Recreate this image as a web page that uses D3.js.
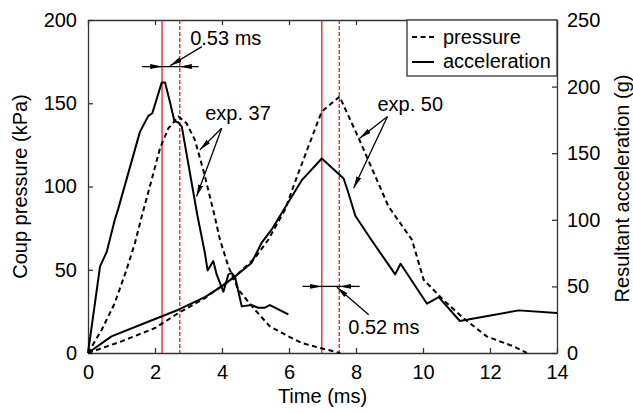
<!DOCTYPE html>
<meta charset="utf-8">
<script src="https://d3js.org/d3.v7.min.js"></script>
<style>
  body { margin: 0; background: #fff; }
  svg text { font-family: "Liberation Sans", Arial, sans-serif; font-size: 20px; fill: #000; }
  .axis path, .axis line { stroke: #333; stroke-width: 1.3; }
</style>
<body>
  <div id="my_dataviz"></div>
  <script>

    // Tick values
    var timeTicks = [0, 2, 4, 6, 8, 10, 12, 14];
    var pressureTicks = [0, 50, 100, 150, 200];
    var accelTicks = [0, 50, 100, 150, 200, 250];

    // Series: [time (ms), value]
    // pressure in kPa (left axis), acceleration in g (right axis)
    var exp37Pressure = [[0,0],[0.41,14],[0.8,30],[1.15,50],[1.4,66],[1.63,84],[1.9,104],[2.15,123],
      [2.4,135],[2.7,142],[2.94,138],[3.19,128],[3.44,110],[3.76,84],[3.94,68],[4.19,52],[4.49,38],
      [4.98,26],[5.43,16],[5.98,10],[6.38,6],[6.93,3],[7.53,0]];
    var exp37Accel = [[0,0],[0.36,65],[0.56,76],[0.8,100],[0.9,108],[1.55,166],[1.8,178],[1.92,180],
      [2.2,203],[2.3,203],[2.45,188],[2.58,174],[2.7,173],[2.8,170],[3.26,104],[3.49,75],[3.57,62],
      [3.74,69],[3.84,59],[4.04,46],[4.19,59],[4.29,60],[4.39,57],[4.59,35],[4.88,36],[5.08,34],
      [5.28,34],[5.43,36],[5.98,29]];
    var exp50Pressure = [[0,0],[1.0,7],[2.0,15],[2.7,24],[3.49,33],[4.39,46],[4.98,57],[5.38,68],
      [5.88,86],[6.24,106],[6.88,140],[6.98,145],[7.51,154],[8.08,129],[8.97,88],[9.67,68],[10.02,44],
      [10.6,32],[11.2,21],[11.9,10],[12.7,4],[13.1,0]];
    var exp50Accel = [[0,0],[0.7,12.5],[1.7,22.5],[2.7,32.5],[3.49,42],[3.99,50],[4.39,57.5],
      [4.88,67.6],[5.18,82.6],[5.48,92.6],[5.83,107],[6.39,130],[6.98,146],[7.63,131],[7.75,122],
      [7.98,103],[8.43,86],[9.17,59],[9.33,67],[10.12,37],[10.47,42],[11.1,24],[12.86,32],[14,30]];

    // Peak times (ms) marked with red lines
    var accelPeaks = [2.21, 6.98];
    var pressurePeaks = [2.74, 7.50];

    // Set the dimensions and margins of the graph
    var margin = {top: 20, right: 76, bottom: 60, left: 88},
        width = 633 - margin.left - margin.right,
        height = 413 - margin.top - margin.bottom;

    var svg = d3.select("#my_dataviz")
      .append("svg")
        .attr("width", width + margin.left + margin.right)
        .attr("height", height + margin.top + margin.bottom)
      .append("g")
        .attr("transform", "translate(" + margin.left + "," + margin.top + ")");

    // Scales
    var x = d3.scaleLinear().domain([0, 14]).range([0, width]);
    var yP = d3.scaleLinear().domain([0, 200]).range([height, 0]);
    var yA = d3.scaleLinear().domain([0, 250]).range([height, 0]);

    // Arrow head
    svg.append("defs").append("marker")
        .attr("id", "arrow")
        .attr("viewBox", "0 0 12 6")
        .attr("refX", 12).attr("refY", 3)
        .attr("markerWidth", 12).attr("markerHeight", 6)
        .attr("markerUnits", "userSpaceOnUse")
        .attr("orient", "auto")
      .append("path")
        .attr("d", "M0,0.5L12,3L0,5.5Z")
        .attr("fill", "#000");

    // Axes, ticks pointing inward
    svg.append("g").attr("class", "axis")
      .attr("transform", "translate(0," + height + ")")
      .call(d3.axisBottom(x).tickValues(timeTicks).tickSizeInner(-5).tickSizeOuter(0).tickPadding(12));
    svg.append("g").attr("class", "axis")
      .call(d3.axisTop(x).tickValues(timeTicks).tickSizeInner(-5).tickSizeOuter(0).tickFormat(""));
    svg.append("g").attr("class", "axis")
      .call(d3.axisLeft(yP).tickValues(pressureTicks).tickSizeInner(-5).tickSizeOuter(0).tickPadding(11));
    svg.append("g").attr("class", "axis")
      .attr("transform", "translate(" + width + ",0)")
      .call(d3.axisRight(yA).tickValues(accelTicks).tickSizeInner(-5).tickSizeOuter(0).tickPadding(10));

    // Axis titles
    svg.append("text")
      .attr("x", width / 2).attr("y", height + 50)
      .attr("text-anchor", "middle")
      .text("Time (ms)");
    svg.append("text")
      .attr("transform", "translate(-61," + (height / 2) + ") rotate(-90)")
      .attr("text-anchor", "middle")
      .text("Coup pressure (kPa)");
    svg.append("text")
      .attr("transform", "translate(" + (width + 72) + "," + (height / 2 + 2) + ") rotate(-90)")
      .attr("text-anchor", "middle")
      .text("Resultant acceleration (g)");

    // Red peak lines
    svg.selectAll("line.apeak")
      .data(accelPeaks)
      .enter().append("line")
        .attr("x1", function(d) { return x(d); }).attr("x2", function(d) { return x(d); })
        .attr("y1", 0).attr("y2", height)
        .attr("stroke", "#f01818").attr("stroke-width", 1.3);
    svg.selectAll("line.ppeak")
      .data(pressurePeaks)
      .enter().append("line")
        .attr("x1", function(d) { return x(d); }).attr("x2", function(d) { return x(d); })
        .attr("y1", 0).attr("y2", height)
        .attr("stroke", "#f01818").attr("stroke-width", 1.3)
        .attr("stroke-dasharray", "4,2");

    // Curves
    var pLine = d3.line()
      .x(function(d) { return x(d[0]); })
      .y(function(d) { return yP(d[1]); });
    var aLine = d3.line()
      .x(function(d) { return x(d[0]); })
      .y(function(d) { return yA(d[1]); });

    [exp37Pressure, exp50Pressure].forEach(function(s) {
      svg.append("path").datum(s)
        .attr("fill", "none").attr("stroke", "#000").attr("stroke-width", 2)
        .attr("stroke-dasharray", "5,3.5")
        .attr("d", pLine);
    });
    [exp37Accel, exp50Accel].forEach(function(s) {
      svg.append("path").datum(s)
        .attr("fill", "none").attr("stroke", "#000").attr("stroke-width", 2)
        .attr("stroke-linejoin", "round")
        .attr("d", aLine);
    });

    // Annotations, given in data units (ms, kPa)
    function arrow(t1, p1, t2, p2, head) {
      var l = svg.append("line")
        .attr("x1", x(t1)).attr("y1", yP(p1))
        .attr("x2", x(t2)).attr("y2", yP(p2))
        .attr("stroke", "#000").attr("stroke-width", 1.3);
      if (head) l.attr("marker-end", "url(#arrow)");
    }
    function label(t, p, txt) {
      svg.append("text").attr("x", x(t)).attr("y", yP(p)).text(txt);
    }

    // exp. 37 time shift
    arrow(1.61, 172, accelPeaks[0], 172, true);
    arrow(accelPeaks[0], 172, pressurePeaks[0], 172, false);
    arrow(3.30, 172, pressurePeaks[0], 172, true);
    arrow(3.40, 184, 2.45, 172.5, true);
    label(3.05, 185, "0.53 ms");

    // exp. 50 time shift
    arrow(6.40, 40, accelPeaks[1], 40, true);
    arrow(accelPeaks[1], 40, pressurePeaks[1], 40, false);
    arrow(8.11, 40, pressurePeaks[1], 40, true);
    arrow(8.38, 23, 7.43, 39.5, true);
    label(7.77, 11.5, "0.52 ms");

    // curve labels
    label(3.50, 140, "exp. 37");
    arrow(3.99, 135, 3.34, 122, true);
    arrow(3.99, 135, 3.24, 94, true);
    label(8.64, 145.5, "exp. 50");
    arrow(8.94, 142, 8.11, 129, true);
    arrow(8.94, 142, 7.93, 99, true);

    // Legend
    var legend = svg.append("g").attr("transform", "translate(" + (width - 150) + ",0)");
    legend.append("rect")
      .attr("width", 150).attr("height", 56)
      .attr("fill", "#fff").attr("stroke", "#333").attr("stroke-width", 1.3);
    legend.append("line")
      .attr("x1", 5).attr("x2", 27).attr("y1", 17).attr("y2", 17)
      .attr("stroke", "#000").attr("stroke-width", 2).attr("stroke-dasharray", "5,3.5");
    legend.append("line")
      .attr("x1", 5).attr("x2", 27).attr("y1", 42).attr("y2", 42)
      .attr("stroke", "#000").attr("stroke-width", 2);
    legend.append("text").attr("x", 36).attr("y", 24).text("pressure");
    legend.append("text").attr("x", 36).attr("y", 48).text("acceleration");

  </script>
</body>
